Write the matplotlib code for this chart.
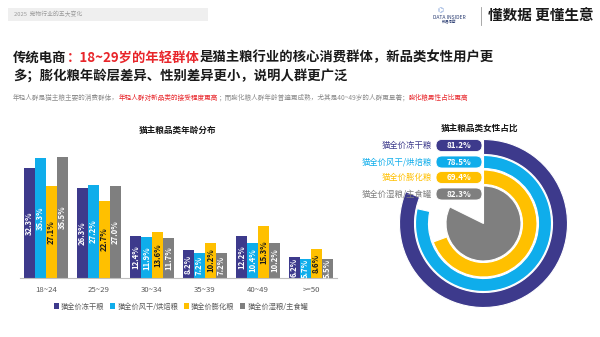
import numpy as np
import matplotlib
matplotlib.use('Agg')
import matplotlib.pyplot as plt
from matplotlib.patches import FancyBboxPatch, Rectangle

plt.rcParams['font.family'] = ['Noto Sans CJK SC', 'DejaVu Sans']

#   the data
age_groups = ['18~24', '25~29', '30~34', '35~39', '40~49', '>=50']
series_names = ['猫全价冻干粮', '猫全价风干/烘焙粮', '猫全价膨化粮', '猫全价湿粮/主食罐']
freeze_dried = [32.3, 26.3, 12.4, 8.2, 12.2, 6.2]
air_dried = [35.3, 27.2, 11.9, 7.2, 10.4, 5.7]
puffed = [27.1, 22.7, 13.6, 10.2, 15.3, 8.6]
wet_food = [35.5, 27.0, 11.7, 7.2, 10.2, 5.5]
female_share = [81.2, 78.5, 69.4, 82.3]

colors = ['#3D3A8C', '#0FADEB', '#FFC000', '#7F7F7F']
label_colors = ['white', 'white', '#1a1a1a', 'white']
red = '#E8262B'

W, H = 600, 337
fig = plt.figure(figsize=(6, 3.37), dpi=100)


def fx(px):
    return px / W


def fy(py):
    return 1 - py / H


def rich_text(x, y, parts, **kw):
    #   draw coloured pieces one after the other on the same line
    renderer = fig.canvas.get_renderer()
    for s, c in parts:
        t = fig.text(fx(x), fy(y), s, color=c, va='center', **kw)
        bb = t.get_window_extent(renderer)
        x = bb.x1


#   header
fig.patches.append(Rectangle((fx(8), fy(21)), fx(200), 13 / H, transform=fig.transFigure,
                             facecolor='#efefef', edgecolor='none'))
fig.text(fx(14), fy(14), '2025  宠物行业的五大变化', fontsize=4.2, color='#9a9a9a', va='center')
fig.text(fx(449), fy(17.5), 'DATA INSIDER', fontsize=3.6, color='#2c3e73', ha='center', va='center')
fig.text(fx(449), fy(22.5), '数据洞察', fontsize=2.6, color='#2c3e73', ha='center', va='center')
fig.text(fx(441), fy(10), '⌬', fontsize=5, color='#6a8fd0', ha='center', va='center')
fig.lines.append(plt.Line2D([fx(481), fx(481)], [fy(7), fy(25)], transform=fig.transFigure,
                            color='#9a9a9a', lw=0.6))
fig.text(fx(488), fy(15.5), '懂数据 更懂生意', fontsize=10.5, fontweight='bold', color='#1a1a1a', va='center')

#   title and subtitle
rich_text(13, 57.5, [('传统电商', '#1a1a1a'), ('：18~29岁的年轻群体', red),
                     ('是猫主粮行业的核心消费群体，新品类女性用户更', '#1a1a1a')],
          fontsize=9.6, fontweight='bold')
rich_text(13, 75.5, [('多；膨化粮年龄层差异、性别差异更小，说明人群更广泛', '#1a1a1a')],
          fontsize=9.6, fontweight='bold')
rich_text(13, 98, [('年轻人群是猫主粮主要的消费群体，', '#8c8c8c'),
                   ('年轻人群对新品类的接受程度更高', red),
                   ('；而膨化粮人群年龄普遍更成熟，尤其是40~49岁的人群更显著；', '#8c8c8c'),
                   ('膨化粮男性占比更高', red)],
          fontsize=4.75)

#   bar chart
ax = fig.add_axes([fx(20), fy(278), fx(337) - fx(20), (278 - 140) / H])
x = np.arange(len(age_groups))
bw = 11 / 53
all_series = [freeze_dried, air_dried, puffed, wet_food]
for i, vals in enumerate(all_series):
    pos = x + (i - 1.5) * bw
    bars = ax.bar(pos, vals, width=bw, color=colors[i], label=series_names[i], linewidth=0)
    for b, v in zip(bars, vals):
        ax.text(b.get_x() + bw / 2, v / 2, f'{v:.1f}%', rotation=90, ha='center', va='center',
                fontsize=5.6, fontweight='bold', color=label_colors[i])
ax.set_xlim(-26 / 53, 291 / 53)
ax.set_ylim(0, 138 / 3.41)
ax.set_xticks(x)
ax.set_xticklabels(age_groups, fontsize=5.6, color='#595959')
ax.tick_params(axis='x', length=0, pad=6)
ax.set_yticks([])
for s in ['top', 'right', 'left']:
    ax.spines[s].set_visible(False)
ax.spines['bottom'].set_color('#bfbfbf')
ax.spines['bottom'].set_linewidth(0.8)
ax.patch.set_alpha(0)
fig.text(fx(178), fy(130), '猫主粮品类年龄分布', fontsize=6.2, fontweight='bold', color='#1a1a1a',
         ha='center', va='center')
fig.legend(loc='center', bbox_to_anchor=(fx(181), fy(306.5)), ncol=4, frameon=False,
           fontsize=5.2, handlelength=0.7, handleheight=0.7, handletextpad=0.3, columnspacing=0.8,
           labelcolor='#595959')

#   radial chart
dx = fig.add_axes([fx(383.5), fy(323.5), 200 / W, 200 / H])
radii = [0.84, 0.68, 0.535, 0.375]
widths = [0.15, 0.13, 0.145, None]
for i, v in enumerate(female_share):
    wp = dict(edgecolor='white', linewidth=0.8)
    if widths[i] is not None:
        wp['width'] = widths[i]
    wedges, _ = dx.pie([v, 100 - v], radius=radii[i], startangle=90, counterclock=False,
                       colors=[colors[i], 'white'], wedgeprops=wp)
    wedges[1].set_visible(False)
dx.set_xlim(-1, 1)
dx.set_ylim(-1, 1)
dx.set_aspect('equal')
dx.axis('off')

rows = [0.78, 0.615, 0.46, 0.295]
ph = 0.12
for i, v in enumerate(female_share):
    pill = FancyBboxPatch((-0.475, rows[i] - ph / 2), 0.46, ph,
                          boxstyle=f'round,pad=0,rounding_size={ph / 2}',
                          facecolor=colors[i], edgecolor='white', linewidth=0.6, zorder=5)
    dx.add_patch(pill)
    dx.text(-0.245, rows[i], f'{v:.1f}%', ha='center', va='center', fontsize=5.8,
            color='white', fontweight='bold', zorder=6)
    dx.text(-0.515, rows[i], series_names[i], ha='right', va='center', fontsize=6,
            color=colors[i] if i != 3 else '#7F7F7F', style='italic', zorder=6)

fig.text(fx(480), fy(128), '猫主粮品类女性占比', fontsize=6.2, fontweight='bold', color='#1a1a1a',
         ha='center', va='center')

fig.savefig('out.png', dpi=100)
